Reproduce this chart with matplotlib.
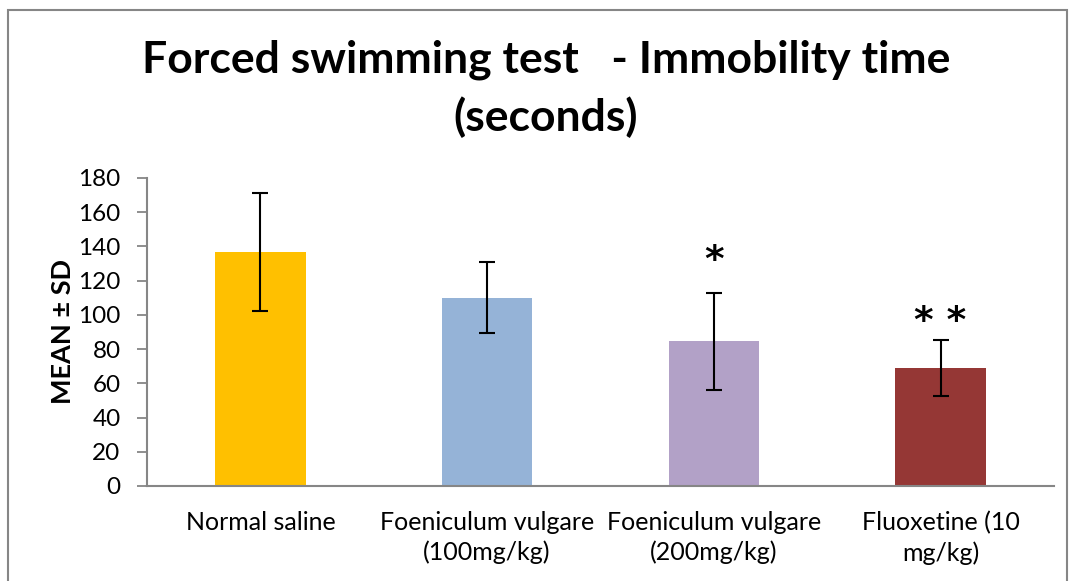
import numpy as np
import matplotlib.pyplot as plt
from matplotlib.patches import Rectangle

# Forced swimming test data
groups = ["Normal saline", "Foeniculum vulgare\n(100mg/kg)",
          "Foeniculum vulgare\n(200mg/kg)", "Fluoxetine (10\nmg/kg)"]
means = [137, 110, 84.5, 69]
sds = [34.5, 20.7, 28.2, 16.2]
stars = ["", "", "*", "* *"]
colors = ["#FFC000", "#95B3D7", "#B2A1C7", "#953735"]

plt.rcParams['font.family'] = ['Lato', 'DejaVu Sans']

fig = plt.figure(figsize=(10.75, 5.81), dpi=100)
ax = fig.add_axes([147 / 1075, 1 - 486 / 581, 907 / 1075, 308 / 581])

x = np.arange(len(groups))
ax.bar(x, means, width=0.4, color=colors, zorder=2)
ax.errorbar(x, means, yerr=sds, fmt="none", ecolor="black", elinewidth=1.5,
            capsize=6, capthick=1.5, zorder=3)

star_gap = [0, 0, 8, 0]
for xi, m, s, st, g in zip(x, means, sds, stars, star_gap):
    if st:
        t = ax.text(xi, m + s + g, st, ha="center", va="bottom",
                    fontsize=27, fontweight="bold", family="DejaVu Sans")

ax.set_xlim(-0.5, 3.5)
ax.set_ylim(0, 180)
ax.set_yticks(np.arange(0, 181, 20))
ax.set_xticks(x)
ax.set_xticklabels(groups, fontsize=18, linespacing=1.35)
ax.tick_params(axis="y", labelsize=17.5, length=7, color="#868686", width=1.3,
               pad=12)
ax.tick_params(axis="x", length=0, pad=18)
for side in ["top", "right"]:
    ax.spines[side].set_visible(False)
for side in ["left", "bottom"]:
    ax.spines[side].set_color("#868686")
    ax.spines[side].set_linewidth(1.5)

ax.set_ylabel("MEAN ± SD", fontsize=19.5, fontweight="bold", labelpad=2)

fig.text(0.508, 1 - 60 / 581, "Forced swimming test   - Immobility time",
         ha="center", va="center", fontsize=32, fontweight="bold")
fig.text(0.508, 1 - 117 / 581, "(seconds)",
         ha="center", va="center", fontsize=32, fontweight="bold")

# chart border
fig.patches.append(Rectangle((8 / 1075, -0.1), 1059 / 1075, 1.1 - 10 / 581,
                             transform=fig.transFigure, fill=False,
                             edgecolor="#868686", linewidth=1.5))

fig.savefig("out.png", dpi=100)
